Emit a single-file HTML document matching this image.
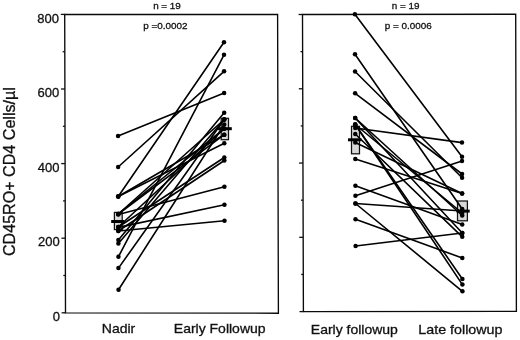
<!DOCTYPE html>
<html><head><meta charset="utf-8"><style>
html,body{margin:0;padding:0;background:#fff;}
svg{display:block;filter:grayscale(1);}
text{font-family:"Liberation Sans",sans-serif;fill:#111;stroke:#111;stroke-width:0.3px;}
.tk{font-size:13px;}
.yt{font-size:16.1px;}
.xl{font-size:13px;}
.sm{font-size:9.9px;}
</style></head><body>
<svg width="520" height="340" viewBox="0 0 520 340">
<rect width="520" height="340" fill="#fff"/>
<polygon points="64.7,14.4 277.6,14.5 278.4,313.2 65.5,312.8" fill="none" stroke="#0a0a0a" stroke-width="1.35" stroke-linejoin="miter"/>
<line x1="61.60" y1="312.80" x2="65.50" y2="312.80" stroke="#111" stroke-width="1.3"/>
<line x1="63.30" y1="275.50" x2="65.40" y2="275.50" stroke="#111" stroke-width="1.3"/>
<line x1="61.40" y1="238.20" x2="65.30" y2="238.20" stroke="#111" stroke-width="1.3"/>
<line x1="63.10" y1="200.90" x2="65.20" y2="200.90" stroke="#111" stroke-width="1.3"/>
<line x1="61.20" y1="163.60" x2="65.10" y2="163.60" stroke="#111" stroke-width="1.3"/>
<line x1="62.90" y1="126.30" x2="65.00" y2="126.30" stroke="#111" stroke-width="1.3"/>
<line x1="61.00" y1="89.00" x2="64.90" y2="89.00" stroke="#111" stroke-width="1.3"/>
<line x1="62.70" y1="51.70" x2="64.80" y2="51.70" stroke="#111" stroke-width="1.3"/>
<line x1="60.80" y1="14.40" x2="64.70" y2="14.40" stroke="#111" stroke-width="1.3"/>
<polygon points="302.5,14.5 515.7,14.2 516.4,311.4 303.4,311.6" fill="none" stroke="#0a0a0a" stroke-width="1.35" stroke-linejoin="miter"/>
<line x1="299.50" y1="311.60" x2="303.40" y2="311.60" stroke="#111" stroke-width="1.3"/>
<line x1="301.19" y1="274.46" x2="303.29" y2="274.46" stroke="#111" stroke-width="1.3"/>
<line x1="299.27" y1="237.33" x2="303.17" y2="237.33" stroke="#111" stroke-width="1.3"/>
<line x1="300.96" y1="200.19" x2="303.06" y2="200.19" stroke="#111" stroke-width="1.3"/>
<line x1="299.05" y1="163.05" x2="302.95" y2="163.05" stroke="#111" stroke-width="1.3"/>
<line x1="300.74" y1="125.91" x2="302.84" y2="125.91" stroke="#111" stroke-width="1.3"/>
<line x1="298.83" y1="88.78" x2="302.73" y2="88.78" stroke="#111" stroke-width="1.3"/>
<line x1="300.51" y1="51.64" x2="302.61" y2="51.64" stroke="#111" stroke-width="1.3"/>
<line x1="298.60" y1="14.50" x2="302.50" y2="14.50" stroke="#111" stroke-width="1.3"/>
<rect x="114.4" y="212.4" width="7.80" height="17.20" fill="#d8d8d8" stroke="#111" stroke-width="1.25"/>
<rect x="221.2" y="118.3" width="7.30" height="21.40" fill="#d8d8d8" stroke="#111" stroke-width="1.25"/>
<rect x="351.5" y="126.3" width="8.00" height="27.50" fill="#d8d8d8" stroke="#111" stroke-width="1.25"/>
<rect x="457.5" y="201.0" width="9.90" height="19.80" fill="#d8d8d8" stroke="#111" stroke-width="1.25"/>
<g stroke="#000" stroke-width="1.6" stroke-linecap="round">
<line x1="118.24" y1="196.5" x2="223.98" y2="42.2"/>
<line x1="118.42" y1="256.8" x2="224.01" y2="54.8"/>
<line x1="118.15" y1="167.0" x2="224.06" y2="71.3"/>
<line x1="118.06" y1="136.0" x2="224.13" y2="93.0"/>
<line x1="118.24" y1="196.5" x2="224.25" y2="134.7"/>
<line x1="118.24" y1="196.5" x2="224.28" y2="143.3"/>
<line x1="118.33" y1="227.0" x2="224.32" y2="157.5"/>
<line x1="118.34" y1="231.0" x2="224.33" y2="160.5"/>
<line x1="118.29" y1="214.4" x2="224.41" y2="186.7"/>
<line x1="118.33" y1="227.4" x2="224.46" y2="204.8"/>
<line x1="118.34" y1="231.0" x2="224.51" y2="220.8"/>
<line x1="118.45" y1="268.1" x2="224.21" y2="119.5"/>
<line x1="118.52" y1="289.7" x2="224.22" y2="124.5"/>
<line x1="118.37" y1="240.0" x2="224.19" y2="112.8"/>
<line x1="118.38" y1="243.5" x2="224.21" y2="119.5"/>
<line x1="118.29" y1="214.0" x2="224.21" y2="119.5"/>
<line x1="118.29" y1="214.0" x2="224.24" y2="128.7"/>
<line x1="118.29" y1="214.0" x2="224.25" y2="134.7"/>
<line x1="118.33" y1="227.0" x2="224.24" y2="128.7"/>
<line x1="354.89" y1="14.3" x2="462.02" y2="156.8"/>
<line x1="355.01" y1="54.3" x2="462.18" y2="209.0"/>
<line x1="355.06" y1="71.5" x2="462.08" y2="177.8"/>
<line x1="355.13" y1="93.3" x2="462.07" y2="174.0"/>
<line x1="355.20" y1="118.0" x2="462.25" y2="233.0"/>
<line x1="355.23" y1="128.0" x2="461.98" y2="142.6"/>
<line x1="355.33" y1="159.0" x2="462.13" y2="193.5"/>
<line x1="355.41" y1="185.8" x2="462.22" y2="224.5"/>
<line x1="355.44" y1="195.8" x2="462.03" y2="161.0"/>
<line x1="355.46" y1="203.5" x2="462.18" y2="211.0"/>
<line x1="355.46" y1="203.5" x2="462.42" y2="291.3"/>
<line x1="355.51" y1="219.3" x2="462.32" y2="258.0"/>
<line x1="355.59" y1="246.0" x2="462.25" y2="233.0"/>
<line x1="355.22" y1="124.5" x2="462.39" y2="279.0"/>
<line x1="355.22" y1="124.5" x2="462.40" y2="284.6"/>
<line x1="355.25" y1="134.0" x2="462.26" y2="236.8"/>
<line x1="355.22" y1="124.5" x2="462.19" y2="213.0"/>
<line x1="355.28" y1="142.5" x2="462.13" y2="193.5"/>
<line x1="355.20" y1="118.0" x2="462.20" y2="215.5"/>
</g>
<g fill="#000">
<circle cx="118.24" cy="196.5" r="2.25"/>
<circle cx="223.98" cy="42.2" r="2.25"/>
<circle cx="118.42" cy="256.8" r="2.25"/>
<circle cx="224.01" cy="54.8" r="2.25"/>
<circle cx="118.15" cy="167.0" r="2.25"/>
<circle cx="224.06" cy="71.3" r="2.25"/>
<circle cx="118.06" cy="136.0" r="2.25"/>
<circle cx="224.13" cy="93.0" r="2.25"/>
<circle cx="118.24" cy="196.5" r="2.25"/>
<circle cx="224.25" cy="134.7" r="2.25"/>
<circle cx="118.24" cy="196.5" r="2.25"/>
<circle cx="224.28" cy="143.3" r="2.25"/>
<circle cx="118.33" cy="227.0" r="2.25"/>
<circle cx="224.32" cy="157.5" r="2.25"/>
<circle cx="118.34" cy="231.0" r="2.25"/>
<circle cx="224.33" cy="160.5" r="2.25"/>
<circle cx="118.29" cy="214.4" r="2.25"/>
<circle cx="224.41" cy="186.7" r="2.25"/>
<circle cx="118.33" cy="227.4" r="2.25"/>
<circle cx="224.46" cy="204.8" r="2.25"/>
<circle cx="118.34" cy="231.0" r="2.25"/>
<circle cx="224.51" cy="220.8" r="2.25"/>
<circle cx="118.45" cy="268.1" r="2.25"/>
<circle cx="224.21" cy="119.5" r="2.25"/>
<circle cx="118.52" cy="289.7" r="2.25"/>
<circle cx="224.22" cy="124.5" r="2.25"/>
<circle cx="118.37" cy="240.0" r="2.25"/>
<circle cx="224.19" cy="112.8" r="2.25"/>
<circle cx="118.38" cy="243.5" r="2.25"/>
<circle cx="224.21" cy="119.5" r="2.25"/>
<circle cx="118.29" cy="214.0" r="2.25"/>
<circle cx="224.21" cy="119.5" r="2.25"/>
<circle cx="118.29" cy="214.0" r="2.25"/>
<circle cx="224.24" cy="128.7" r="2.25"/>
<circle cx="118.29" cy="214.0" r="2.25"/>
<circle cx="224.25" cy="134.7" r="2.25"/>
<circle cx="118.33" cy="227.0" r="2.25"/>
<circle cx="224.24" cy="128.7" r="2.25"/>
<circle cx="354.89" cy="14.3" r="2.25"/>
<circle cx="462.02" cy="156.8" r="2.25"/>
<circle cx="355.01" cy="54.3" r="2.25"/>
<circle cx="462.18" cy="209.0" r="2.25"/>
<circle cx="355.06" cy="71.5" r="2.25"/>
<circle cx="462.08" cy="177.8" r="2.25"/>
<circle cx="355.13" cy="93.3" r="2.25"/>
<circle cx="462.07" cy="174.0" r="2.25"/>
<circle cx="355.20" cy="118.0" r="2.25"/>
<circle cx="462.25" cy="233.0" r="2.25"/>
<circle cx="355.23" cy="128.0" r="2.25"/>
<circle cx="461.98" cy="142.6" r="2.25"/>
<circle cx="355.33" cy="159.0" r="2.25"/>
<circle cx="462.13" cy="193.5" r="2.25"/>
<circle cx="355.41" cy="185.8" r="2.25"/>
<circle cx="462.22" cy="224.5" r="2.25"/>
<circle cx="355.44" cy="195.8" r="2.25"/>
<circle cx="462.03" cy="161.0" r="2.25"/>
<circle cx="355.46" cy="203.5" r="2.25"/>
<circle cx="462.18" cy="211.0" r="2.25"/>
<circle cx="355.46" cy="203.5" r="2.25"/>
<circle cx="462.42" cy="291.3" r="2.25"/>
<circle cx="355.51" cy="219.3" r="2.25"/>
<circle cx="462.32" cy="258.0" r="2.25"/>
<circle cx="355.59" cy="246.0" r="2.25"/>
<circle cx="462.25" cy="233.0" r="2.25"/>
<circle cx="355.22" cy="124.5" r="2.25"/>
<circle cx="462.39" cy="279.0" r="2.25"/>
<circle cx="355.22" cy="124.5" r="2.25"/>
<circle cx="462.40" cy="284.6" r="2.25"/>
<circle cx="355.25" cy="134.0" r="2.25"/>
<circle cx="462.26" cy="236.8" r="2.25"/>
<circle cx="355.22" cy="124.5" r="2.25"/>
<circle cx="462.19" cy="213.0" r="2.25"/>
<circle cx="355.28" cy="142.5" r="2.25"/>
<circle cx="462.13" cy="193.5" r="2.25"/>
<circle cx="355.20" cy="118.0" r="2.25"/>
<circle cx="462.20" cy="215.5" r="2.25"/>
</g>
<rect x="111.2" y="220.00" width="13.00" height="3" fill="#000"/>
<rect x="218.0" y="127.20" width="13.80" height="3" fill="#000"/>
<rect x="348.0" y="138.30" width="13.50" height="3" fill="#000"/>
<rect x="456.5" y="209.60" width="13.20" height="3" fill="#000"/>
<text x="58.90" y="22.50" text-anchor="end" class="tk">800</text>
<text x="59.16" y="97.30" text-anchor="end" class="tk">600</text>
<text x="59.42" y="171.50" text-anchor="end" class="tk">400</text>
<text x="59.68" y="245.70" text-anchor="end" class="tk">200</text>
<text x="59.95" y="320.90" text-anchor="end" class="tk">0</text>
<text class="yt" transform="translate(15.0,171.6) rotate(-90)" text-anchor="middle">CD45RO+ CD4 Cells/µl</text>
<text class="xl" transform="translate(101.8,332.8) scale(1.077,1)">Nadir</text>
<text class="xl" transform="translate(173.8,332.8) scale(1.077,1)">Early Followup</text>
<text class="xl" transform="translate(310.8,334.3) scale(1.077,1)">Early followup</text>
<text class="xl" transform="translate(418.3,334.3) scale(1.1,1)">Late followup</text>
<text class="sm" x="167" y="8.5" text-anchor="middle">n = 19</text>
<text class="sm" x="165.3" y="28.8" text-anchor="middle">p =0.0002</text>
<text class="sm" x="405.6" y="8.5" text-anchor="middle">n = 19</text>
<text class="sm" x="408.2" y="29.2" text-anchor="middle">p = 0.0006</text>
</svg>
</body></html>
